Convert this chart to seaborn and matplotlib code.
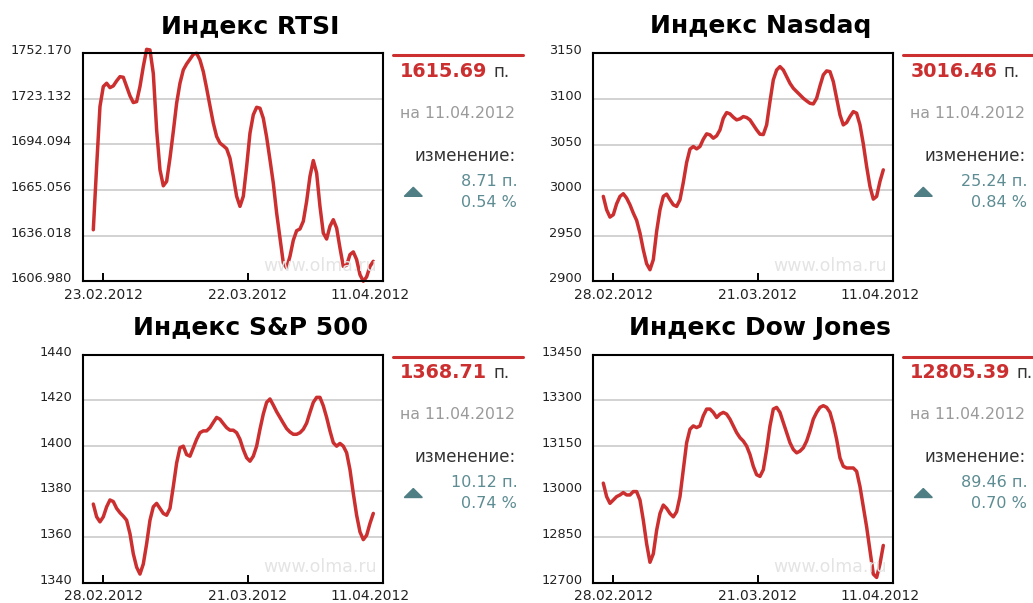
import numpy as np
import pandas as pd
import matplotlib
matplotlib.use("Agg")
import matplotlib.pyplot as plt
import matplotlib.transforms as mtransforms
import seaborn as sns
from matplotlib.patches import Polygon
from matplotlib.lines import Line2D

#index values (equal time steps)
rtsi = [1639.8, 1680.1, 1718.3, 1731.0, 1733.1, 1730.3, 1731.4, 1734.6, 1737.3, 1736.9,
        1731.0, 1725.1, 1720.8, 1721.4, 1731.0, 1743.7, 1754.7, 1754.3, 1739.4, 1703.4,
        1678.0, 1667.8, 1670.6, 1685.4, 1702.4, 1720.4, 1733.1, 1741.6, 1745.4, 1748.4,
        1751.5, 1752.2, 1747.9, 1740.5, 1729.9, 1718.7, 1707.7, 1699.2, 1695.0, 1693.3,
        1691.4, 1685.4, 1673.8, 1661.1, 1654.7, 1661.1, 1680.1, 1701.3, 1713.0, 1717.8,
        1717.2, 1710.8, 1698.8, 1684.4, 1669.5, 1650.5, 1634.6, 1618.7, 1615.5, 1622.9,
        1633.1, 1639.2, 1640.3, 1645.2, 1657.9, 1673.8, 1683.9, 1675.9, 1654.7, 1637.7,
        1633.9, 1642.0, 1646.2, 1640.9, 1628.2, 1616.5, 1617.2, 1624.0, 1625.7, 1620.8,
        1611.2, 1607.0, 1609.8, 1616.5, 1619.7]
nasdaq = [2993.1, 2978.4, 2970.4, 2973.0, 2985.0, 2993.1, 2996.0, 2991.2, 2983.9, 2974.8,
          2966.8, 2952.9, 2934.6, 2919.3, 2912.7, 2923.7, 2954.7, 2978.4, 2993.1, 2995.6,
          2989.4, 2983.9, 2982.1, 2989.4, 3008.4, 3030.3, 3044.9, 3047.8, 3045.2, 3047.8,
          3055.8, 3061.7, 3060.6, 3056.9, 3059.5, 3066.0, 3078.8, 3085.0, 3083.6, 3079.9,
          3077.0, 3078.1, 3080.6, 3079.6, 3077.0, 3071.5, 3066.0, 3061.3, 3060.9, 3071.5,
          3097.1, 3120.8, 3131.7, 3135.4, 3131.7, 3124.4, 3117.1, 3111.7, 3108.0, 3104.4,
          3100.7, 3097.8, 3095.2, 3094.5, 3100.7, 3114.2, 3126.3, 3130.7, 3129.9, 3119.0,
          3100.7, 3082.5, 3071.5, 3074.1, 3080.6, 3086.1, 3084.3, 3071.5, 3050.7, 3025.9,
          3004.0, 2990.1, 2993.1, 3009.5, 3022.2]
sp500 = [1374.4, 1368.8, 1366.6, 1368.8, 1373.2, 1376.2, 1375.5, 1372.5, 1370.6, 1369.1,
         1367.3, 1361.4, 1352.6, 1346.7, 1343.7, 1348.1, 1357.0, 1367.3, 1373.2, 1374.7,
         1372.5, 1370.3, 1369.5, 1372.5, 1382.1, 1392.4, 1399.1, 1399.8, 1396.1, 1395.4,
         1399.1, 1402.8, 1405.7, 1406.5, 1406.5, 1407.9, 1410.2, 1412.4, 1411.6, 1409.7,
         1407.9, 1406.8, 1406.8, 1405.7, 1402.8, 1398.3, 1394.7, 1393.2, 1395.4, 1399.8,
         1407.2, 1413.9, 1419.0, 1420.5, 1417.8, 1414.9, 1412.4, 1409.9, 1407.5, 1406.0,
         1405.0, 1405.0, 1405.7, 1407.2, 1409.9, 1414.6, 1419.0, 1421.2, 1421.2, 1417.5,
         1412.4, 1406.5, 1401.3, 1399.8, 1401.0, 1399.8, 1396.9, 1389.5, 1379.1, 1369.5,
         1362.2, 1358.8, 1360.7, 1365.9, 1370.3]
dow = [13026.8, 12982.5, 12960.4, 12971.4, 12982.5, 12988.0, 12995.8, 12988.0, 12988.0, 12999.1,
       12999.1, 12971.4, 12905.0, 12827.4, 12766.5, 12794.2, 12871.7, 12927.1, 12954.8, 12943.7,
       12927.1, 12916.0, 12932.7, 12982.5, 13071.1, 13159.8, 13204.1, 13215.1, 13209.6, 13215.1,
       13248.4, 13270.5, 13270.5, 13259.5, 13242.8, 13253.9, 13259.5, 13253.9, 13237.3, 13215.1,
       13193.0, 13176.4, 13165.3, 13148.7, 13121.0, 13082.2, 13054.5, 13049.0, 13071.1, 13137.6,
       13215.1, 13270.5, 13276.1, 13259.5, 13226.2, 13193.0, 13159.8, 13137.6, 13126.5, 13132.1,
       13143.1, 13165.3, 13198.5, 13237.3, 13259.5, 13276.1, 13281.6, 13276.1, 13259.5, 13220.7,
       13170.8, 13109.9, 13082.2, 13076.7, 13076.7, 13076.7, 13065.6, 13015.7, 12949.3, 12882.8,
       12805.3, 12727.7, 12716.6, 12761.0, 12821.9]

#y ticks of every chart
rtsi_ticks = [1606.980, 1636.018, 1665.056, 1694.094, 1723.132, 1752.170]
nasdaq_ticks = [2900, 2950, 3000, 3050, 3100, 3150]
sp500_ticks = [1340, 1360, 1380, 1400, 1420, 1440]
dow_ticks = [12700, 12850, 13000, 13150, 13300, 13450]

#date labels
rtsi_dates = ['23.02.2012', '22.03.2012', '11.04.2012']
us_dates = ['28.02.2012', '21.03.2012', '11.04.2012']
date_idx = [3, 46.3, 83]

titles = ['Индекс RTSI', 'Индекс Nasdaq', 'Индекс S&P 500', 'Индекс Dow Jones']
last_values = ['1615.69', '3016.46', '1368.71', '12805.39']
change_pts = ['8.71', '25.24', '10.12', '89.46']
change_pct = ['0.54', '0.84', '0.74', '0.70']
last_date = '11.04.2012'

W, H = 1033, 603
RED = '#cc2f2f'
TEAL = '#5d8c92'

sns.set_theme(style='white')
plt.rcParams['font.family'] = ['DejaVu Sans']

fig = plt.figure(figsize=(W / 100, H / 100), dpi=100)

#pixel helpers
def fx(x):
    return x / W

def fy(y):
    return 1 - y / H

panels = [
    (rtsi, rtsi_ticks, rtsi_dates, '{:.3f}', 83.3, 53.3),
    (nasdaq, nasdaq_ticks, us_dates, '{:.0f}', 593.3, 53.3),
    (sp500, sp500_ticks, us_dates, '{:.0f}', 83.3, 354.5),
    (dow, dow_ticks, us_dates, '{:.0f}', 593.3, 354.5),
]
box_w, box_h = 300, 228
lift = mtransforms.ScaledTranslation(0, 4 / 100, fig.dpi_scale_trans)

for i, (vals, ticks, dates, fmt, left, top) in enumerate(panels):
    ax = fig.add_axes([fx(left), fy(top + box_h), box_w / W, box_h / H])
    df = pd.DataFrame({'t': np.arange(len(vals)), 'v': vals})
    sns.lineplot(data=df, x='t', y='v', ax=ax, color=RED, linewidth=2.5)
    ax.lines[0].set_clip_on(False)

    ax.set_xlim(-3, 87)
    ax.set_ylim(ticks[0], ticks[-1])
    ax.set_yticks(ticks)
    ax.set_yticklabels([fmt.format(t) for t in ticks])
    ax.yaxis.grid(True, color='#c6c6c6', linewidth=1.1)
    ax.tick_params(axis='y', left=False, length=0, pad=8, labelsize=9.3, labelcolor='#222222')
    #labels sit a little above their grid lines
    for lab in ax.get_yticklabels():
        lab.set_transform(lab.get_transform() + lift)

    ax.set_xticks(date_idx)
    ax.set_xticklabels(dates)
    ax.tick_params(axis='x', bottom=True, direction='in', length=6, width=1.4,
                   color='black', pad=5, labelsize=10, labelcolor='#222222')
    ax.xaxis.get_major_ticks()[-1].tick1line.set_visible(False)
    ax.set_xlabel('')
    ax.set_ylabel('')
    for s in ax.spines.values():
        s.set_color('black')
        s.set_linewidth(1.5)

    ax.text(0.98, 0.066, 'www.olma.ru', transform=ax.transAxes, ha='right', va='center',
            color='#e4e4e4', fontsize=12.5)

    #title
    fig.text(fx(left + 167), fy(top - 27), titles[i], ha='center', va='center',
             fontsize=18, fontweight='bold', color='black')

    #side block
    br = left + box_w
    fig.add_artist(Line2D([fx(br + 10), fx(br + 140)], [fy(top + 2)] * 2,
                          transform=fig.transFigure, color=RED, linewidth=2.2))
    val_txt = fig.text(fx(br + 17), fy(top + 24), last_values[i], ha='left', va='baseline',
                       fontsize=13.8, fontweight='bold', color=RED)
    fig.canvas.draw()
    bb = val_txt.get_window_extent(fig.canvas.get_renderer())
    fig.text(bb.x1 / W + fx(6), fy(top + 24), 'п.', ha='left', va='baseline',
             fontsize=12, color='#333333')
    fig.text(fx(br + 17), fy(top + 60), 'на ' + last_date, ha='left', va='center',
             fontsize=11.3, color='#9a9a9a')
    fig.text(fx(br + 132), fy(top + 103), 'изменение:', ha='right', va='center',
             fontsize=12, color='#333333')
    fig.text(fx(br + 134), fy(top + 128), change_pts[i] + ' п.', ha='right', va='center',
             fontsize=11.5, color=TEAL)
    fig.text(fx(br + 134), fy(top + 149), change_pct[i] + ' %', ha='right', va='center',
             fontsize=11.5, color=TEAL)
    cx, cy = br + 30, top + 139
    tri = Polygon([(fx(cx - 9), fy(cy + 4)), (fx(cx + 9), fy(cy + 4)), (fx(cx), fy(cy - 5))],
                  closed=True, transform=fig.transFigure, color='#4f7f85')
    fig.add_artist(tri)

fig.savefig('out.png', dpi=100)
